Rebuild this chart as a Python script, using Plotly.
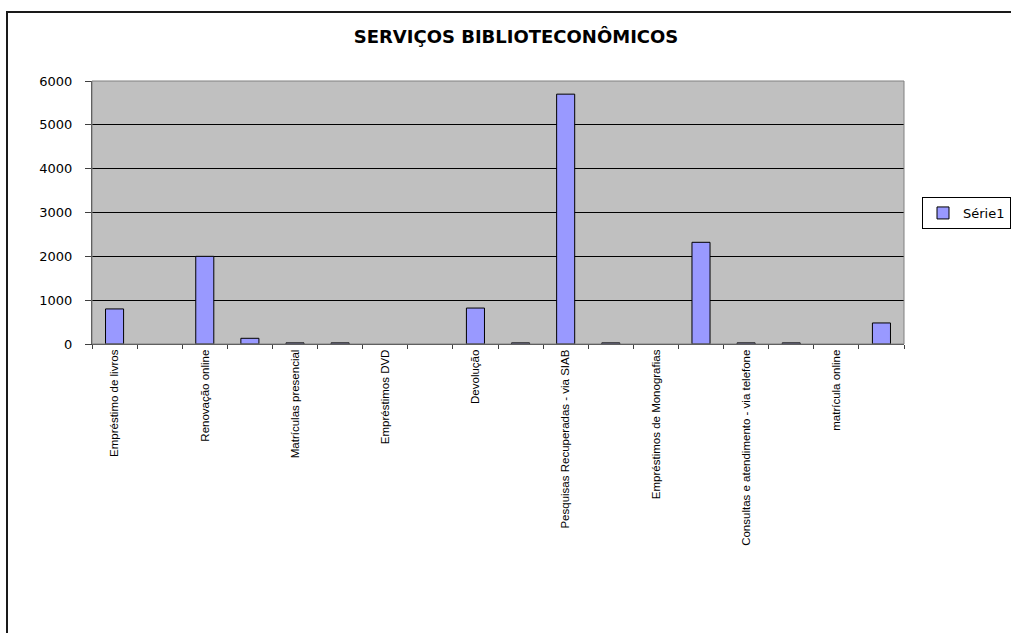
import plotly.graph_objects as go

# ---- data ----
categories = [
    "Empréstimo de livros", "",
    "Renovação online", "",
    "Matrículas presencial", "",
    "Empréstimos DVD", "",
    "Devolução", "",
    "Pesquisas Recuperadas - via SIAB", "",
    "Empréstimos de Monografias", "",
    "Consultas e atendimento - via telefone", "",
    "matrícula online", "",
]
values = [800, None, 2000, 130, 25, 25, None, None, 820, 25,
          5700, 25, None, 2320, 25, 25, None, 480]
series_name = "Série1"
y_ticks = [0, 1000, 2000, 3000, 4000, 5000, 6000]
title_text = "SERVIÇOS BIBLIOTECONÔMICOS"

W, H = 1011, 633
L, R, T, B = 92, 904, 81, 344
pw, ph = R - L, B - T

xs = list(range(len(categories)))
tickvals = [i for i, c in enumerate(categories) if c]
ticktext = [c for c in categories if c]

fig = go.Figure()
fig.add_trace(go.Bar(
    x=xs, y=values, name=series_name, width=0.4,
    marker=dict(color="#9999FF", line=dict(color="#000000", width=1)),
    showlegend=True,
))

def px_x(p):
    return (p - L) / pw

def px_y(p):
    return (B - p) / ph

fig.update_layout(
    width=W, height=H,
    margin=dict(l=L, r=W - R, t=T, b=H - B, autoexpand=False),
    paper_bgcolor="white",
    plot_bgcolor="#C0C0C0",
    font=dict(family="Liberation Sans, Arial", color="black"),
    title=dict(text=title_text, x=(516) / W, xanchor="center",
               y=1 - 37 / H, yanchor="middle",
               font=dict(family="DejaVu Sans", size=18, color="black", weight="bold")),
    bargap=0.6,
    showlegend=True,
    legend=dict(x=px_x(922), y=px_y(213), xanchor="left", yanchor="middle",
                bgcolor="white", bordercolor="black", borderwidth=1,
                font=dict(family="DejaVu Sans", size=13, color="black"),
                itemwidth=30),
    xaxis=dict(
        range=[-0.5, len(categories) - 0.5],
        tickmode="array", tickvals=tickvals, ticktext=ticktext,
        tickangle=-90, ticks="", showgrid=False, zeroline=False,
        showline=True, linecolor="#404040", linewidth=1,
        tickfont=dict(family="Liberation Sans, Arial", size=11.5, color="black"),
        minor=dict(tickvals=[i - 0.5 for i in range(len(categories) + 1)],
                   ticks="outside", ticklen=4, tickcolor="#404040", showgrid=False),
    ),
    yaxis=dict(
        range=[0, 6000], tickmode="array", tickvals=y_ticks,
        ticks="outside", ticklen=6, tickcolor="#404040",
        showline=True, linecolor="#404040", linewidth=1,
        showgrid=True, gridcolor="black", gridwidth=1, zeroline=False,
        ticklabelstandoff=10,
        tickfont=dict(family="DejaVu Sans", size=13, color="black"),
    ),
    shapes=[
        dict(type="rect", xref="paper", yref="paper", x0=0, x1=1, y0=0, y1=1,
             line=dict(color="#808080", width=1), layer="above"),
        dict(type="rect", xref="paper", yref="paper",
             x0=px_x(7), x1=px_x(W + 20), y0=px_y(H + 20), y1=px_y(12),
             line=dict(color="#1a1a1a", width=2), layer="above"),
    ],
)

fig.write_html("out.html")
